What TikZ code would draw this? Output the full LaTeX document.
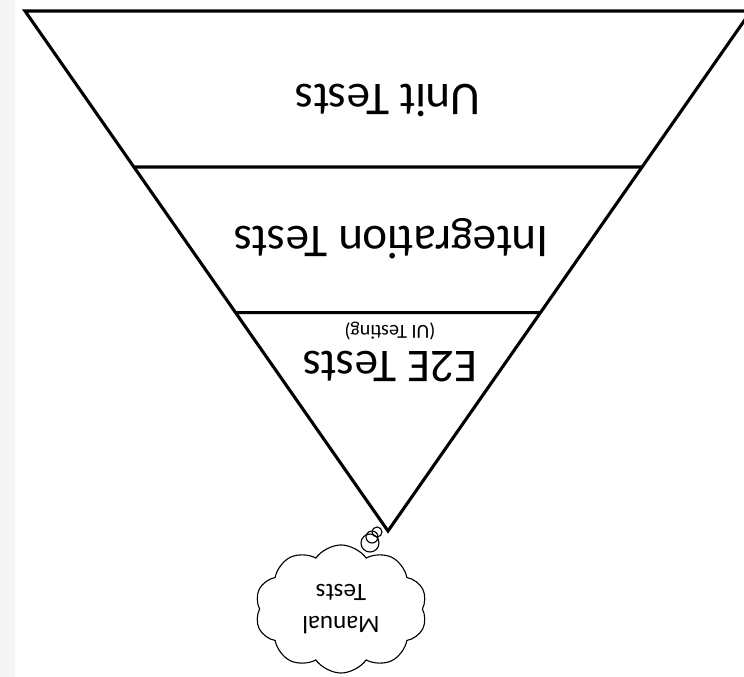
\documentclass[tikz,border=0pt]{standalone}
\usepackage{fontspec}
\setmainfont{Carlito}
\usetikzlibrary{calc,shapes.symbols}

\begin{document}
\begin{tikzpicture}[x=0.025cm,y=0.025cm,
    level/.style={font=\fontsize{33.4}{40}\selectfont,rotate=180,inner sep=0pt},
    edge/.style={line width=2.2pt,line join=miter},
    bubble/.style={draw,line width=0.8pt}]
    \useasboundingbox (0,0) rectangle (744,677);
    \clip (0,0) rectangle (744,677);
    \fill[color=black!4](0,0) rectangle (15,677);

    % inverted pyramid
    \coordinate(A)at(25,666);
    \coordinate(B)at(751,666);
    \coordinate(C)at(388,146);
    \coordinate(D)at($(A)!0.3!(C)$);
    \coordinate(E)at($(B)!0.3!(C)$);
    \coordinate(F)at($(A)!0.58!(C)$);
    \coordinate(G)at($(B)!0.58!(C)$);
    \draw[edge](A)--(B)--(C)--cycle (D)--(E) (F)--(G);

    \node[level](unit)at(388,577){Unit Tests};
    \node[level](integ)at(391,438){Integration Tests};
    \node[level](etoe)at(390,310){E2E Tests};
    \node[level,font=\fontsize{14.2}{17}\selectfont](uitest)at(390,346){(UI Testing)};

    % thought cloud
    \node[cloud,bubble,cloud puffs=10,cloud puff arc=110,aspect=1.4,
      minimum width=4.3cm,minimum height=3.2cm,inner sep=0pt,rotate=180,
      align=center,font=\fontsize{17.8}{22.8}\selectfont](manual)at(341,68){Manual\\Tests};
    \draw[bubble](377,145) circle (5);
    \draw[bubble](372,140) circle (6);
    \draw[bubble](370,134) circle (9);
\end{tikzpicture}
\end{document}
